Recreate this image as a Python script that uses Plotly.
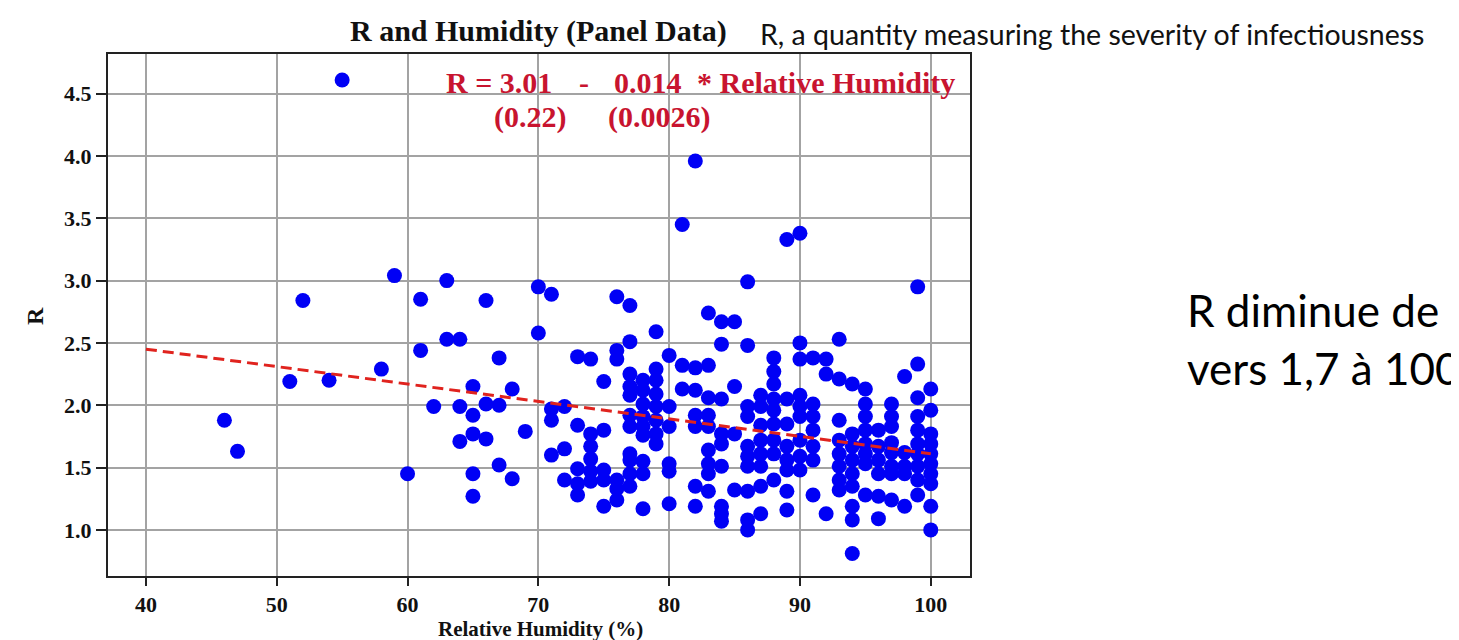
import plotly.graph_objects as go

# ---------------- data ----------------
humidity = [
    46, 47, 51, 52, 54, 55, 58, 59, 60, 61, 61, 62, 63, 63, 64, 64, 64,
    65, 65, 65, 65, 65, 66, 66, 66,
    67, 67, 67, 68, 68, 69, 70, 70,
    71, 71, 71, 71, 72, 72, 72,
    73, 73, 73, 73, 73,
    74, 74, 74, 74, 74, 74,
    75, 75, 75, 75, 75,
    76, 76, 76, 76, 76, 76,
    77, 77, 77, 77, 77, 77, 77, 77, 77, 77, 77,
    78, 78, 78, 78, 78, 78, 78, 78, 78,
    79, 79, 79, 79, 79, 79, 79, 79,
    80, 80, 80, 80, 80, 80,
    81, 81, 81,
    82, 82, 82, 82, 82, 82, 82,
    83, 83, 83, 83, 83, 83, 83, 83, 83,
    84, 84, 84, 84, 84, 84, 84, 84, 84,
    85, 85, 85, 85,
    86, 86, 86, 86, 86, 86, 86, 86, 86, 86,
    87, 87, 87, 87, 87, 87, 87, 87,
    88, 88, 88, 88, 88, 88, 88, 88, 88,
    89, 89, 89, 89, 89, 89, 89, 89,
    90, 90, 90, 90, 90, 90, 90, 90, 90,
    91, 91, 91, 91, 91, 91, 91,
    92, 92, 92,
    93, 93, 93, 93, 93, 93, 93, 93,
    94, 94, 94, 94, 94, 94, 94, 94, 94,
    95, 95, 95, 95, 95, 95, 95, 95,
    96, 96, 96, 96, 96, 96,
    97, 97, 97, 97, 97, 97, 97, 97,
    98, 98, 98, 98, 98,
    99, 99, 99, 99, 99, 99, 99, 99, 99, 99,
    100, 100, 100, 100, 100, 100, 100, 100, 100, 100,
]
r_value = [
    1.88, 1.63, 2.19, 2.84, 2.20, 4.61, 2.29, 3.04, 1.45, 2.85, 2.44, 1.99, 3.00, 2.53, 2.53, 1.99, 1.71,
    2.15, 1.92, 1.77, 1.45, 1.27, 2.84, 2.01, 1.73,
    2.38, 2.00, 1.52, 2.13, 1.41, 1.79, 2.95, 2.58,
    2.89, 1.97, 1.88, 1.60, 1.99, 1.65, 1.40,
    2.39, 1.84, 1.49, 1.37, 1.28,
    2.37, 1.77, 1.67, 1.57, 1.47, 1.39,
    2.19, 1.80, 1.48, 1.40, 1.19,
    2.87, 2.44, 2.37, 1.40, 1.33, 1.24,
    2.80, 2.51, 2.25, 2.15, 2.08, 1.92, 1.83, 1.61, 1.56, 1.45, 1.35,
    2.20, 2.12, 2.01, 1.91, 1.83, 1.76, 1.55, 1.45, 1.17,
    2.59, 2.29, 2.20, 2.09, 1.99, 1.88, 1.77, 1.69,
    2.40, 1.99, 1.83, 1.53, 1.47, 1.21,
    3.45, 2.32, 2.13,
    3.96, 2.30, 2.12, 1.92, 1.83, 1.35, 1.19,
    2.74, 2.32, 2.06, 1.92, 1.83, 1.64, 1.53, 1.45, 1.31,
    2.67, 2.49, 2.05, 1.77, 1.69, 1.51, 1.19, 1.13, 1.07,
    2.67, 2.15, 1.77, 1.32,
    2.99, 2.48, 1.99, 1.91, 1.67, 1.59, 1.51, 1.31, 1.08, 1.00,
    2.08, 1.99, 1.84, 1.72, 1.61, 1.51, 1.35, 1.13,
    2.38, 2.27, 2.17, 2.05, 1.96, 1.85, 1.72, 1.61, 1.40,
    3.33, 2.05, 1.85, 1.67, 1.56, 1.48, 1.31, 1.16,
    3.38, 2.50, 2.37, 2.08, 1.99, 1.91, 1.72, 1.59, 1.48,
    2.38, 2.01, 1.91, 1.80, 1.67, 1.56, 1.28,
    2.37, 2.25, 1.13,
    2.53, 2.21, 1.88, 1.72, 1.61, 1.51, 1.40, 1.32,
    2.17, 1.77, 1.67, 1.56, 1.45, 1.35, 1.19, 1.08, 0.81,
    2.13, 2.01, 1.91, 1.80, 1.69, 1.61, 1.53, 1.28,
    1.80, 1.67, 1.56, 1.45, 1.27, 1.09,
    2.01, 1.91, 1.83, 1.70, 1.62, 1.51, 1.45, 1.24,
    2.23, 1.62, 1.51, 1.45, 1.19,
    2.95, 2.33, 2.06, 1.91, 1.80, 1.69, 1.61, 1.51, 1.40, 1.28,
    2.13, 1.96, 1.77, 1.69, 1.61, 1.53, 1.45, 1.37, 1.19, 1.00,
]

intercept = 3.01
slope = -0.014
fit_humidity = [40, 100]
fit_r = [intercept + slope * h for h in fit_humidity]

x_ticks = [40, 50, 60, 70, 80, 90, 100]
y_ticks = [1.0, 1.5, 2.0, 2.5, 3.0, 3.5, 4.0, 4.5]

title_text = "R and Humidity (Panel Data)"
subtitle_text = "R, a quantity measuring the severity of infectiousness"
x_title = "Relative Humidity (%)"
y_title = "R"
side_line1 = "R diminue de 2"
side_line2 = "vers 1,7 à 100%"

# ---------------- layout geometry ----------------
W, H = 1459, 640
L, R_, T, B = 100, 1459 - 962, 46, 72
PW, PH = W - L - R_, H - T - B


def px(xp):
    return (xp - L) / PW


def py(yp):
    return (H - B - yp) / PH


SERIF = "Liberation Serif, Times New Roman, serif"
SANS = "Lato, Open Sans, sans-serif"
RED = "#c8142f"
EQ = 30

fig = go.Figure()
fig.add_trace(go.Scatter(
    x=humidity, y=r_value, mode="markers",
    marker=dict(color="#0000f5", size=15, line=dict(width=0)),
    showlegend=False, hoverinfo="x+y",
))
fig.add_trace(go.Scatter(
    x=fit_humidity, y=fit_r, mode="lines",
    line=dict(color="#e0231e", width=3, dash="11px,6px"),
    showlegend=False,
))

annotations = [
    dict(text=f"<b>{title_text}</b>", x=px(340), y=py(23), xanchor="left", yanchor="middle",
         font=dict(family=SERIF, size=30, color="#111")),
    dict(text=subtitle_text, x=px(750), y=py(26), xanchor="left", yanchor="middle",
         font=dict(family=SANS, size=28.5, color="#111")),
    dict(text="<b>R = 3.01</b>", x=px(436), y=py(74), xanchor="left", yanchor="middle",
         font=dict(family=SERIF, size=EQ, color=RED)),
    dict(text="<b>-</b>", x=px(569), y=py(74), xanchor="left", yanchor="middle",
         font=dict(family=SERIF, size=EQ, color=RED)),
    dict(text="<b>0.014</b>", x=px(604), y=py(74), xanchor="left", yanchor="middle",
         font=dict(family=SERIF, size=EQ, color=RED)),
    dict(text="<b>* Relative Humidity</b>", x=px(687), y=py(74), xanchor="left", yanchor="middle",
         font=dict(family=SERIF, size=EQ, color=RED)),
    dict(text="<b>(0.22)</b>", x=px(484), y=py(109), xanchor="left", yanchor="middle",
         font=dict(family=SERIF, size=EQ, color=RED)),
    dict(text="<b>(0.0026)</b>", x=px(598), y=py(109), xanchor="left", yanchor="middle",
         font=dict(family=SERIF, size=EQ, color=RED)),
    dict(text=side_line1, x=px(1177), y=py(302), xanchor="left", yanchor="middle",
         font=dict(family=SANS, size=44, color="#000")),
    dict(text=side_line2, x=px(1177), y=py(360), xanchor="left", yanchor="middle",
         font=dict(family=SANS, size=44, color="#000")),
    dict(text=f"<b>{x_title}</b>", x=px(532), y=py(621), xanchor="center", yanchor="middle",
         font=dict(family=SERIF, size=21, color="#111")),
    dict(text=f"<b>{y_title}</b>", x=px(27), y=py(308), xanchor="center", yanchor="middle",
         textangle=-90, font=dict(family=SERIF, size=24, color="#111")),
]
for a in annotations:
    a.update(xref="paper", yref="paper", showarrow=False)

fig.update_layout(
    width=W, height=H,
    margin=dict(l=L, r=R_, t=T, b=B, autoexpand=False),
    paper_bgcolor="white", plot_bgcolor="white",
    annotations=annotations,
    shapes=[dict(type="rect", xref="paper", yref="paper",
                 x0=px(0), x1=px(508), y0=py(640), y1=py(635),
                 fillcolor="#9a9a9a", line=dict(width=0), layer="below")],
)
fig.update_xaxes(
    range=[37.1, 103.0], tickvals=x_ticks, ticktext=[str(v) for v in x_ticks],
    showgrid=True, gridcolor="#a3a3a3", gridwidth=1.5, zeroline=False,
    showline=True, mirror=True, linecolor="#222", linewidth=2,
    ticks="outside", ticklen=8, tickwidth=2, tickcolor="#222",
    tickfont=dict(family=SERIF, size=22, color="#111", weight="bold"),
)
fig.update_yaxes(
    range=[0.63, 4.818], tickvals=y_ticks, ticktext=[f"{v:.1f}" for v in y_ticks],
    showgrid=True, gridcolor="#a3a3a3", gridwidth=1.5, zeroline=False,
    showline=True, mirror=True, linecolor="#222", linewidth=2,
    ticks="outside", ticklen=10, tickwidth=2, tickcolor="#222",
    tickfont=dict(family=SERIF, size=22, color="#111", weight="bold"),
)

fig.write_html("out.html")
